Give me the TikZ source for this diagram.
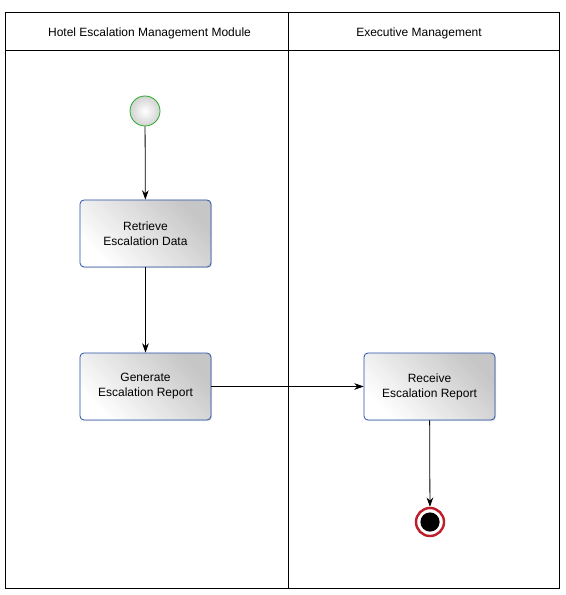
\documentclass[tikz,border=0pt]{standalone}
\usepackage{fontspec}
\setmainfont{Liberation Sans}
\usetikzlibrary{arrows.meta,shadows}
\definecolor{actborder}{RGB}{40,80,170}
\definecolor{startgreen}{RGB}{40,170,40}
\definecolor{endred}{RGB}{190,30,40}
\begin{document}
\begin{tikzpicture}[x=0.75pt,y=-0.75pt,
  every node/.style={font=\fontsize{9}{11.3}\selectfont},
  lane/.style={draw=black,line width=0.75pt},
  action/.style={draw=actborder,line width=0.6pt,rounded corners=3pt,
    left color=white,right color=gray!45,shading angle=135,
    minimum width=98.25pt,minimum height=50.25pt,align=center,
    drop shadow={shadow xshift=0.8pt,shadow yshift=-0.8pt,opacity=0.25}},
  startnode/.style={circle,draw=startgreen,line width=0.6pt,
    inner color=white,outer color=gray!35,minimum size=22.5pt,inner sep=0pt},
  flow/.style={-{Stealth[length=7pt,width=5pt]},line width=0.6pt,black}]
\useasboundingbox (0,0) rectangle (565,595);
\fill[white] (0,0) rectangle (565,595);
% swimlanes
\draw[lane] (5,13) rectangle (559,588);
\draw[lane] (5,51) -- (559,51);
\draw[lane] (288,13) -- (288,588);
\node (h1) at (149.5,33) {Hotel Escalation Management Module};
\node (h2) at (419,33) {Executive Management};
% nodes
\node[startnode] (start) at (145,111) {};
\node[action] (retrieve) at (145.5,233.5) {Retrieve\\Escalation Data};
\node[action] (generate) at (145.5,386.5) {Generate\\Escalation Report};
\node[action] (receive) at (429.5,386.5) {Receive\\Escalation Report};
\node[circle,draw=endred,line width=1.8pt,fill=white,minimum size=21pt,inner sep=0pt] (end) at (430,522) {};
\fill[black] (end.center) circle (7.2pt);
% flows
\draw[flow] (start) -- (retrieve);
\draw[flow] (retrieve) -- (generate);
\draw[flow] (generate) -- (receive);
\draw[flow] (receive) -- (end);
\end{tikzpicture}
\end{document}
